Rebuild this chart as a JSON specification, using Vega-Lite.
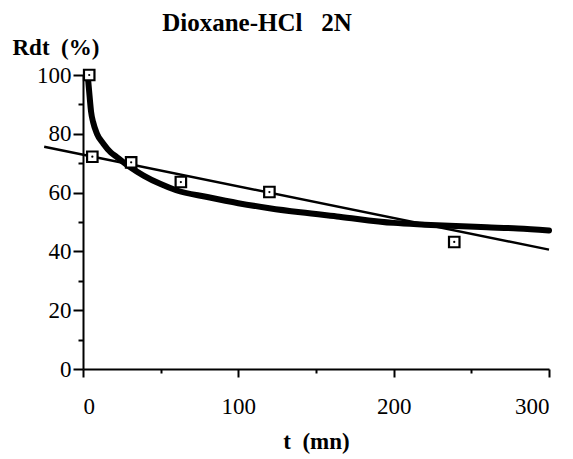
{
  "$schema": "https://vega.github.io/schema/vega-lite/v6.json",
  "width": 466,
  "height": 294,
  "autosize": {"type": "none"},
  "padding": {"left": 83, "top": 75, "right": 24, "bottom": 90},
  "background": "white",
  "title": {
    "text": "Dioxane-HCl\u00a0\u00a0 2N",
    "anchor": "middle",
    "frame": "group",
    "dx": -59,
    "font": "Liberation Serif",
    "fontSize": 25,
    "fontWeight": "bold",
    "color": "black",
    "offset": 0
  },
  "config": {
    "view": {"stroke": null},
    "axis": {
      "domainColor": "black",
      "domainWidth": 2,
      "tickColor": "black",
      "tickWidth": 2,
      "grid": false,
      "labelFont": "Liberation Sans Narrow",
      "labelFontSize": 23,
      "labelColor": "black",
      "titleFont": "Liberation Serif",
      "titleFontSize": 23,
      "titleFontWeight": "bold",
      "titleColor": "black"
    }
  },
  "encoding": {
    "x": {
      "field": "t",
      "type": "quantitative",
      "scale": {"domain": [0, 300], "nice": false, "zero": false},
      "axis": {
        "title": "t\u00a0\u00a0(mn)",
        "values": [0, 50, 100, 150, 200, 250, 300],
        "labelExpr": "datum.value % 100 === 0 ? datum.label : ''",
        "tickSize": {"condition": {"test": "datum.value % 100 === 0", "value": 8}, "value": 4},
        "labelPadding": 18,
        "titlePadding": 12
      }
    },
    "y": {
      "field": "y",
      "type": "quantitative",
      "scale": {"domain": [0, 100], "nice": false},
      "axis": {
        "title": "Rdt\u00a0\u00a0(%)",
        "values": [0, 10, 20, 30, 40, 50, 60, 70, 80, 90, 100],
        "labelExpr": "datum.value % 20 === 0 ? datum.label : ''",
        "tickSize": {"condition": {"test": "datum.value % 20 === 0", "value": 10}, "value": 5},
        "labelPadding": 2,
        "titleAngle": 0,
        "titleAlign": "left",
        "titleBaseline": "alphabetic",
        "titleX": -71,
        "titleY": -21
      }
    }
  },
  "layer": [
    {
      "data": {"values": [
        {"t": -25, "y": 75.6},
        {"t": 300, "y": 40.6}
      ]},
      "mark": {"type": "line", "color": "black", "strokeWidth": 2.5}
    },
    {
      "data": {"values": [
        {"t": 3.2, "y": 99},
        {"t": 4.2, "y": 93},
        {"t": 5.2, "y": 87.5},
        {"t": 6.5, "y": 84},
        {"t": 9, "y": 80},
        {"t": 13, "y": 76.7},
        {"t": 18, "y": 73.6},
        {"t": 22, "y": 72},
        {"t": 30, "y": 68.8},
        {"t": 39, "y": 65.8},
        {"t": 50, "y": 62.9},
        {"t": 60, "y": 60.8},
        {"t": 80, "y": 58.5},
        {"t": 100, "y": 56.4},
        {"t": 120, "y": 54.7},
        {"t": 140, "y": 53.3},
        {"t": 165, "y": 51.8},
        {"t": 200, "y": 49.7},
        {"t": 220, "y": 49.1},
        {"t": 240, "y": 48.6},
        {"t": 260, "y": 48.2},
        {"t": 280, "y": 47.8},
        {"t": 300, "y": 47.1}
      ]},
      "mark": {"type": "line", "color": "black", "strokeWidth": 6, "interpolate": "monotone", "strokeCap": "round"}
    },
    {
      "data": {"name": "pts", "values": [
        {"t": 4, "y": 100},
        {"t": 6, "y": 72.2},
        {"t": 31, "y": 70.3},
        {"t": 63, "y": 63.6},
        {"t": 120, "y": 60.2},
        {"t": 239, "y": 43.2}
      ]},
      "mark": {"type": "point", "shape": "square", "filled": true, "fill": "white", "stroke": "black", "strokeWidth": 2.2, "size": 110, "opacity": 1}
    },
    {
      "data": {"values": [
        {"t": 4, "y": 100},
        {"t": 6, "y": 72.2},
        {"t": 31, "y": 70.3},
        {"t": 63, "y": 63.6},
        {"t": 120, "y": 60.2},
        {"t": 239, "y": 43.2}
      ]},
      "mark": {"type": "point", "shape": "circle", "filled": true, "color": "black", "size": 5, "opacity": 1}
    }
  ]
}
